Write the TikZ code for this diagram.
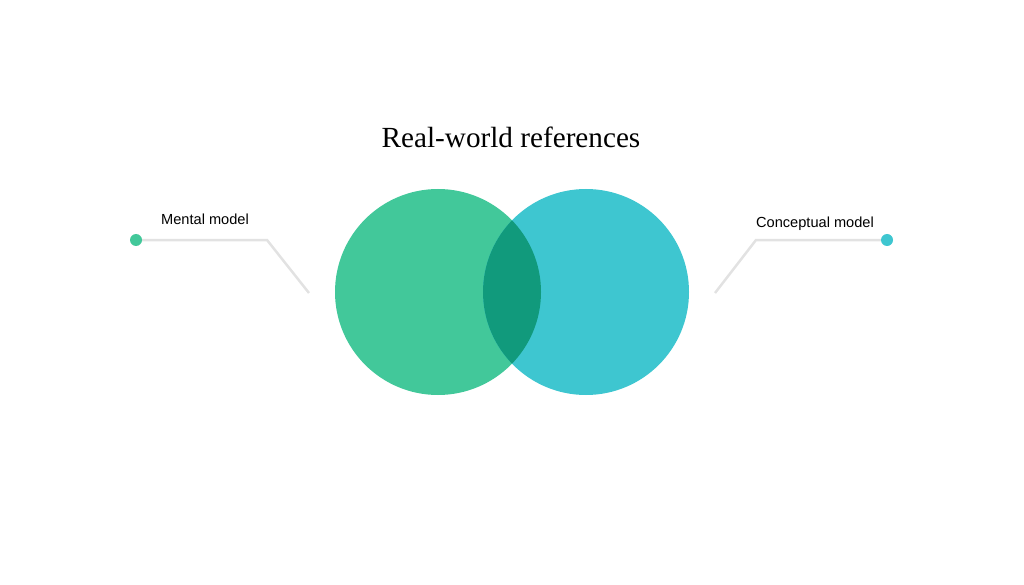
\documentclass[tikz,border=0pt]{standalone}
\usepackage{fontspec}
\setmainfont{Liberation Serif}
\newfontfamily\tagfont{Liberation Sans}
\usetikzlibrary{positioning}

\definecolor{mentalgreen}{RGB}{66,200,154}
\definecolor{conceptcyan}{RGB}{62,198,208}
\definecolor{overlapgreen}{RGB}{17,154,124}
\definecolor{leadergray}{RGB}{226,226,226}

\begin{document}
\begin{tikzpicture}[x=1pt, y=-1pt, node distance=.3cm]

            % Define styles
            \tikzstyle{set} = [circle, inner sep=0pt, minimum size=206pt]
            \tikzstyle{dot} = [circle, inner sep=0pt, minimum size=12pt]
            \tikzstyle{leader} = [draw, leadergray, line width=2.5pt]
            \tikzstyle{tag} = [font=\tagfont\fontsize{14.6}{16}\selectfont, inner sep=0pt]

            \useasboundingbox (0,0) rectangle (1024,585);

            % Sets
            \node [set, fill=mentalgreen] (mental) at (438,292) {};
            \node [set, fill=conceptcyan] (conceptual) at (586,292) {};
            \begin{scope}
                \clip (mental.center) circle (103pt);
                \fill [overlapgreen] (conceptual.center) circle (103pt);
            \end{scope}
            \node [font=\fontsize{29.2}{33}\selectfont] (title) at (511,137) {Real-world references};

            % Leaders
            \coordinate (mbend) at (267,240);
            \coordinate (mend) at (309,293);
            \coordinate (cbend) at (756,240);
            \coordinate (cend) at (715,293);
            \node [dot] (mdot) at (136,240) {};
            \node [dot] (cdot) at (887,240) {};
            \path [leader] (mdot.center) -- (mbend) -- (mend);
            \path [leader] (cdot.center) -- (cbend) -- (cend);
            \fill [mentalgreen] (mdot.center) circle (6pt);
            \fill [conceptcyan] (cdot.center) circle (6pt);

            % Labels
            \node [tag] (mlabel) at (205,219) {Mental model};
            \node [tag] (clabel) at (815,224) {Conceptual model};

        \end{tikzpicture}
\end{document}
